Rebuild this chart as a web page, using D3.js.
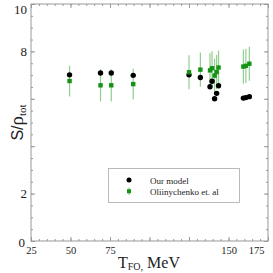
<!DOCTYPE html>
<html>
<head>
<meta charset="utf-8">
<script src="https://cdn.jsdelivr.net/npm/d3@7"></script>
<style>
  body { margin: 0; background: #fff; }
  svg { display: block; }
  text { font-family: "Liberation Serif", "Times New Roman", serif; fill: #222; }
</style>
</head>
<body>
<svg id="chart" width="273" height="273"></svg>
<script>
// temperatures of freeze-out, MeV
let temps = [49.4, 69.0, 75.8, 89.7, 125.0, 132.2, 138.3, 139.6, 141.2, 142.5, 143.7, 159.4, 161.0, 163.2];
// our model, s/rho_tot
let ourModel = [7.01, 7.09, 7.09, 6.99, 7.01, 6.90, 6.51, 6.74, 6.00, 6.23, 6.55, 6.03, 6.05, 6.09];
// Oliinychenko et. al
let oliiValues = [6.75, 6.57, 6.57, 6.62, 7.12, 7.23, 7.20, 7.29, 6.98, 7.13, 7.32, 7.36, 7.39, 7.48];
let oliiErrors = [0.65, 0.68, 0.68, 0.65, 0.72, 0.72, 0.72, 0.72, 0.72, 0.72, 0.72, 0.72, 0.72, 0.72];

let xMajor = [25, 50, 75, 100, 125, 150, 175];
let xLabels = [25, 50, 75, 150, 175];
let yMajor = [0, 2, 4, 6, 8, 10];
let yLabels = [0, 2, 8, 10];
let legendNames = ['Our model', 'Oliinychenko et. al'];

let margin = { left: 31, right: 5, top: 4, bottom: 32 };
let width = 273, height = 273;

let svg = d3.select('#chart');

let x = d3.scaleLinear().domain([25, 175]).range([margin.left, width - margin.right]);
let y = d3.scaleLinear().domain([0, 10]).range([height - margin.bottom, margin.top]);

let xMinor = d3.range(25, 175.1, 5);
let yMinor = d3.range(0, 10.01, 0.5);

let frameColor = '#999';

function styleAxis(g) {
  g.select('.domain').remove();
  g.selectAll('line').attr('stroke', frameColor);
}

// minor ticks, all four sides
svg.append('g').attr('transform', `translate(0,${y(0)})`)
  .call(d3.axisBottom(x).tickValues(xMinor).tickSize(-2).tickFormat(''))
  .call(styleAxis);
svg.append('g').attr('transform', `translate(0,${y(10)})`)
  .call(d3.axisTop(x).tickValues(xMinor).tickSize(-2).tickFormat(''))
  .call(styleAxis);
svg.append('g').attr('transform', `translate(${x(25)},0)`)
  .call(d3.axisLeft(y).tickValues(yMinor).tickSize(-2).tickFormat(''))
  .call(styleAxis);
svg.append('g').attr('transform', `translate(${x(175)},0)`)
  .call(d3.axisRight(y).tickValues(yMinor).tickSize(-2).tickFormat(''))
  .call(styleAxis);

// major ticks
let xAxis = svg.append('g').attr('transform', `translate(0,${y(0)})`)
  .call(d3.axisBottom(x).tickValues(xMajor).tickSize(-4)
    .tickFormat(d => xLabels.includes(d) ? d : ''))
  .call(styleAxis);
xAxis.selectAll('text')
  .attr('y', 6).attr('dy', '0.71em')
  .style('font-size', '10.5px')
  .style('font-family', '"Liberation Serif", serif')
  .attr('fill', '#222');
xAxis.selectAll('.tick').filter(d => d === 175).select('text')
  .attr('text-anchor', 'end').attr('x', -4);

svg.append('g').attr('transform', `translate(0,${y(10)})`)
  .call(d3.axisTop(x).tickValues(xMajor).tickSize(-4).tickFormat(''))
  .call(styleAxis);

let yAxis = svg.append('g').attr('transform', `translate(${x(25)},0)`)
  .call(d3.axisLeft(y).tickValues(yMajor).tickSize(-4)
    .tickFormat(d => yLabels.includes(d) ? d : ''))
  .call(styleAxis);
yAxis.selectAll('text')
  .attr('x', -4)
  .style('font-size', '13px')
  .style('font-family', '"Liberation Serif", serif')
  .attr('fill', '#222');
yAxis.selectAll('.tick').filter(d => d === 0).select('text')
  .attr('x', -6).attr('dy', '0.4em');
yAxis.selectAll('.tick').filter(d => d === 10).select('text')
  .attr('dy', '0.75em');

svg.append('g').attr('transform', `translate(${x(175)},0)`)
  .call(d3.axisRight(y).tickValues(yMajor).tickSize(-4).tickFormat(''))
  .call(styleAxis);

// frame
svg.append('rect')
  .attr('x', x(25)).attr('y', y(10))
  .attr('width', x(175) - x(25)).attr('height', y(0) - y(10))
  .attr('fill', 'none').attr('stroke', frameColor).attr('stroke-width', 1);

// data
let green = '#149314';
let errColor = '#8fcf8f';

let points = temps.map((t, i) => ({ t: t, our: ourModel[i], olii: oliiValues[i], err: oliiErrors[i] }));

svg.append('g').selectAll('line')
  .data(points).join('line')
  .attr('x1', d => x(d.t)).attr('x2', d => x(d.t))
  .attr('y1', d => y(d.olii - d.err)).attr('y2', d => y(d.olii + d.err))
  .attr('stroke', errColor).attr('stroke-width', 1.2);

svg.append('g').selectAll('circle')
  .data(points).join('circle')
  .attr('cx', d => x(d.t)).attr('cy', d => y(d.our))
  .attr('r', 2.7).attr('fill', '#000');

svg.append('g').selectAll('rect')
  .data(points).join('rect')
  .attr('x', d => x(d.t) - 2.2).attr('y', d => y(d.olii) - 2.2)
  .attr('width', 4.4).attr('height', 4.4).attr('fill', green);

// legend
let legend = svg.append('g');
legend.append('rect')
  .attr('x', 108.5).attr('y', 168.5).attr('width', 131).attr('height', 34)
  .attr('fill', '#fff').attr('stroke', '#aaa').attr('stroke-width', 0.8);
legend.append('circle').attr('cx', 129).attr('cy', 180).attr('r', 2.5).attr('fill', '#000');
legend.append('line').attr('x1', 129).attr('x2', 129).attr('y1', 187.5).attr('y2', 195)
  .attr('stroke', errColor).attr('stroke-width', 1.2);
legend.append('rect').attr('x', 127).attr('y', 189.2).attr('width', 4).attr('height', 4).attr('fill', green);
legend.selectAll('text.lg')
  .data(legendNames).join('text')
  .attr('class', 'lg')
  .attr('x', 150).attr('y', (d, i) => 183.5 + i * 11)
  .style('font-size', '9px')
  .text(d => d);

// axis titles
let xt = svg.append('text').attr('x', 118).attr('y', 268).style('font-size', '16px');
xt.append('tspan').text('T');
xt.append('tspan').attr('dy', 2).style('font-size', '10px').text('FO,');
xt.append('tspan').attr('dy', -2).text(' MeV');

let yt = svg.append('text')
  .attr('transform', `translate(23,${(y(0) + y(10)) / 2}) rotate(-90)`)
  .attr('text-anchor', 'middle');
yt.append('tspan').style('font-family', '"Liberation Sans", Arial, sans-serif').style('font-size', '16px').text('S/');
yt.append('tspan').style('font-size', '19px').text('ρ');
yt.append('tspan').attr('dy', 3).style('font-size', '11px').text('tot');
</script>
</body>
</html>
